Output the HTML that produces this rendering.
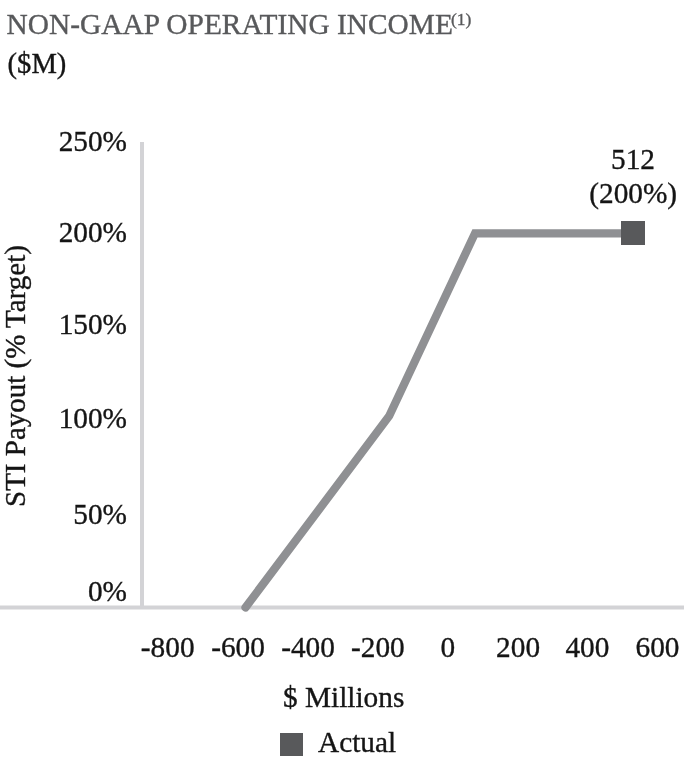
<!DOCTYPE html>
<html><head><meta charset="utf-8">
<style>
html,body{margin:0;padding:0;background:#fff;width:684px;height:758px;overflow:hidden}
svg{display:block;will-change:transform}
text{font-family:"Liberation Serif",serif;font-size:29.3px;fill:#151515;stroke:#151515;stroke-width:0.35px}
</style></head><body>
<svg width="684" height="758" viewBox="0 0 684 758">
<rect width="684" height="758" fill="#fff"/>
<!-- title -->
<text x="6.6" y="34" style="fill:#58595b;stroke:#58595b;font-size:29.4px">NON-GAAP OPERATING INCOME</text>
<text x="451" y="24.5" style="fill:#58595b;stroke:#58595b;font-size:17.5px">(1)</text>
<text x="7.6" y="73" style="font-size:28.6px">($M)</text>
<!-- axes -->
<line x1="142" y1="142" x2="142" y2="607" stroke="#d3d3d6" stroke-width="4"/>
<line x1="0" y1="607.5" x2="684" y2="607.5" stroke="#d3d3d6" stroke-width="4"/>
<!-- y labels -->
<g text-anchor="end">
<text x="127" y="151">250%</text>
<text x="127" y="242.4">200%</text>
<text x="127" y="333.7">150%</text>
<text x="127" y="428.3">100%</text>
<text x="127" y="523.7">50%</text>
<text x="127" y="600.5">0%</text>
</g>
<!-- y title -->
<text transform="translate(25,507) rotate(-90)" style="font-size:29px">STI Payout (% Target)</text>
<!-- series -->
<polyline points="245.5,607.5 389.2,416 475,233.3 633,233.3" fill="none" stroke="#8f9093" stroke-width="8.2" stroke-linecap="round" stroke-linejoin="miter"/>
<rect x="621" y="221" width="24" height="24" fill="#58595b"/>
<text x="633" y="169" text-anchor="middle">512</text>
<text x="633.2" y="203" text-anchor="middle">(200%)</text>
<!-- x labels -->
<g text-anchor="middle">
<text x="167.7" y="656.9">-800</text>
<text x="238" y="656.9">-600</text>
<text x="308" y="656.9">-400</text>
<text x="377.9" y="656.9">-200</text>
<text x="447.9" y="656.9">0</text>
<text x="518.1" y="656.9">200</text>
<text x="587.4" y="656.9">400</text>
<text x="657.5" y="656.9">600</text>
</g>
<text x="283" y="707">$ Millions</text>
<!-- legend -->
<rect x="280" y="733" width="23" height="23" fill="#58595b"/>
<text x="318" y="752">Actual</text>
</svg>
</body></html>
